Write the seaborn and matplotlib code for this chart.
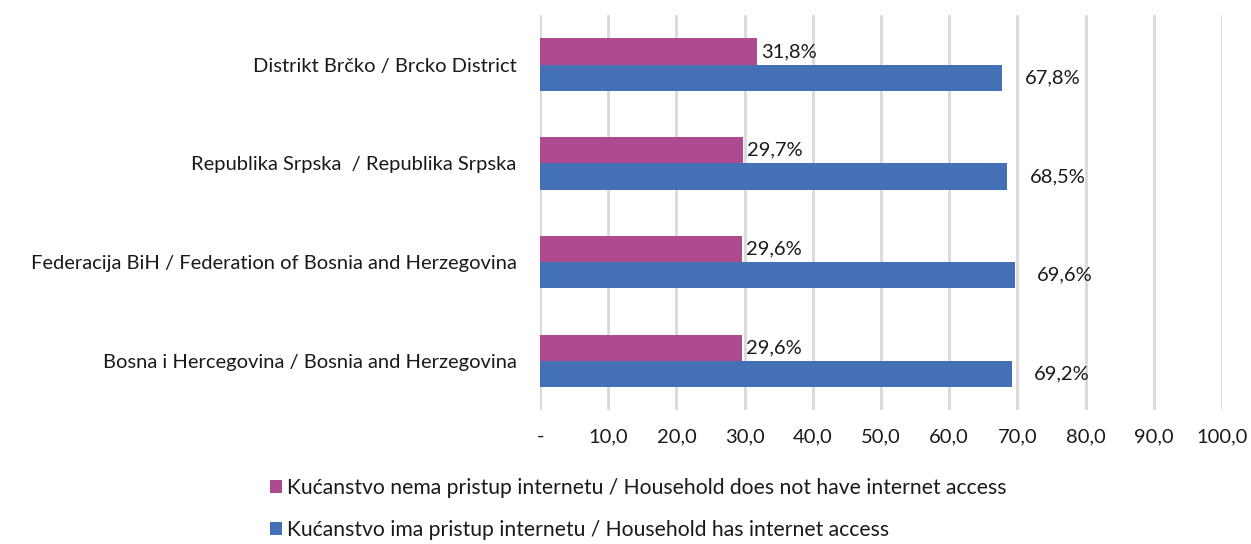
import pandas as pd
import seaborn as sns
import matplotlib.pyplot as plt

# Data
regions = [
    "Distrikt Brčko / Brcko District",
    "Republika Srpska  / Republika Srpska",
    "Federacija BiH / Federation of Bosnia and Herzegovina",
    "Bosna i Hercegovina / Bosnia and Herzegovina",
]
no_access = [31.8, 29.7, 29.6, 29.6]
has_access = [67.8, 68.5, 69.6, 69.2]
series = [
    "Kućanstvo nema pristup internetu / Household does not have internet access",
    "Kućanstvo ima pristup internetu / Household has internet access",
]
xticks = [0, 10, 20, 30, 40, 50, 60, 70, 80, 90, 100]
xtick_labels = ["-", "10,0", "20,0", "30,0", "40,0", "50,0", "60,0", "70,0", "80,0", "90,0", "100,0"]

df = pd.DataFrame({
    "Region": regions * 2,
    "Series": [series[0]] * len(regions) + [series[1]] * len(regions),
    "Value": no_access + has_access,
})

sns.set_style("white")
plt.rcParams['font.family'] = ['Lato', 'DejaVu Sans']

fig = plt.figure(figsize=(12.51, 5.44), dpi=100)
ax = fig.add_axes([0.4317, 0.246, 0.5451, 0.726])

sns.barplot(data=df, y="Region", x="Value", hue="Series", hue_order=series,
            order=regions, palette=["#AE4B8F", "#4470B5"], orient="h",
            width=0.53, saturation=1, linewidth=0, legend=True, ax=ax)

# Value labels
for cont, pad in zip(ax.containers, [3, 16]):
    ax.bar_label(cont, labels=[f"{v:.1f}%".replace(".", ",") for v in cont.datavalues],
                 padding=pad, fontsize=14.5, color="#1a1a1a")

ax.set_xlim(0, 100)
ax.set_xticks(xticks)
ax.set_xticklabels(xtick_labels, fontsize=14.5, color="#1a1a1a")
ax.tick_params(axis="y", labelsize=14.5, labelcolor="#1a1a1a", length=0, pad=17)
ax.tick_params(axis="x", length=0, pad=13)
ax.set_xlabel("")
ax.set_ylabel("")
ax.xaxis.grid(True, color="#D9D9D9", linewidth=2)
ax.set_axisbelow(True)
sns.despine(ax=ax, left=True, bottom=True)

handles, labels = ax.get_legend_handles_labels()
ax.get_legend().remove()
fig.legend(handles, labels, loc="lower center", bbox_to_anchor=(0.51, -0.028),
           ncol=1, frameon=False, fontsize=15.2, handlelength=0.6, handleheight=0.6,
           handletextpad=0.2, labelspacing=1.05, labelcolor="#1a1a1a")

fig.savefig("out.png", dpi=100)
